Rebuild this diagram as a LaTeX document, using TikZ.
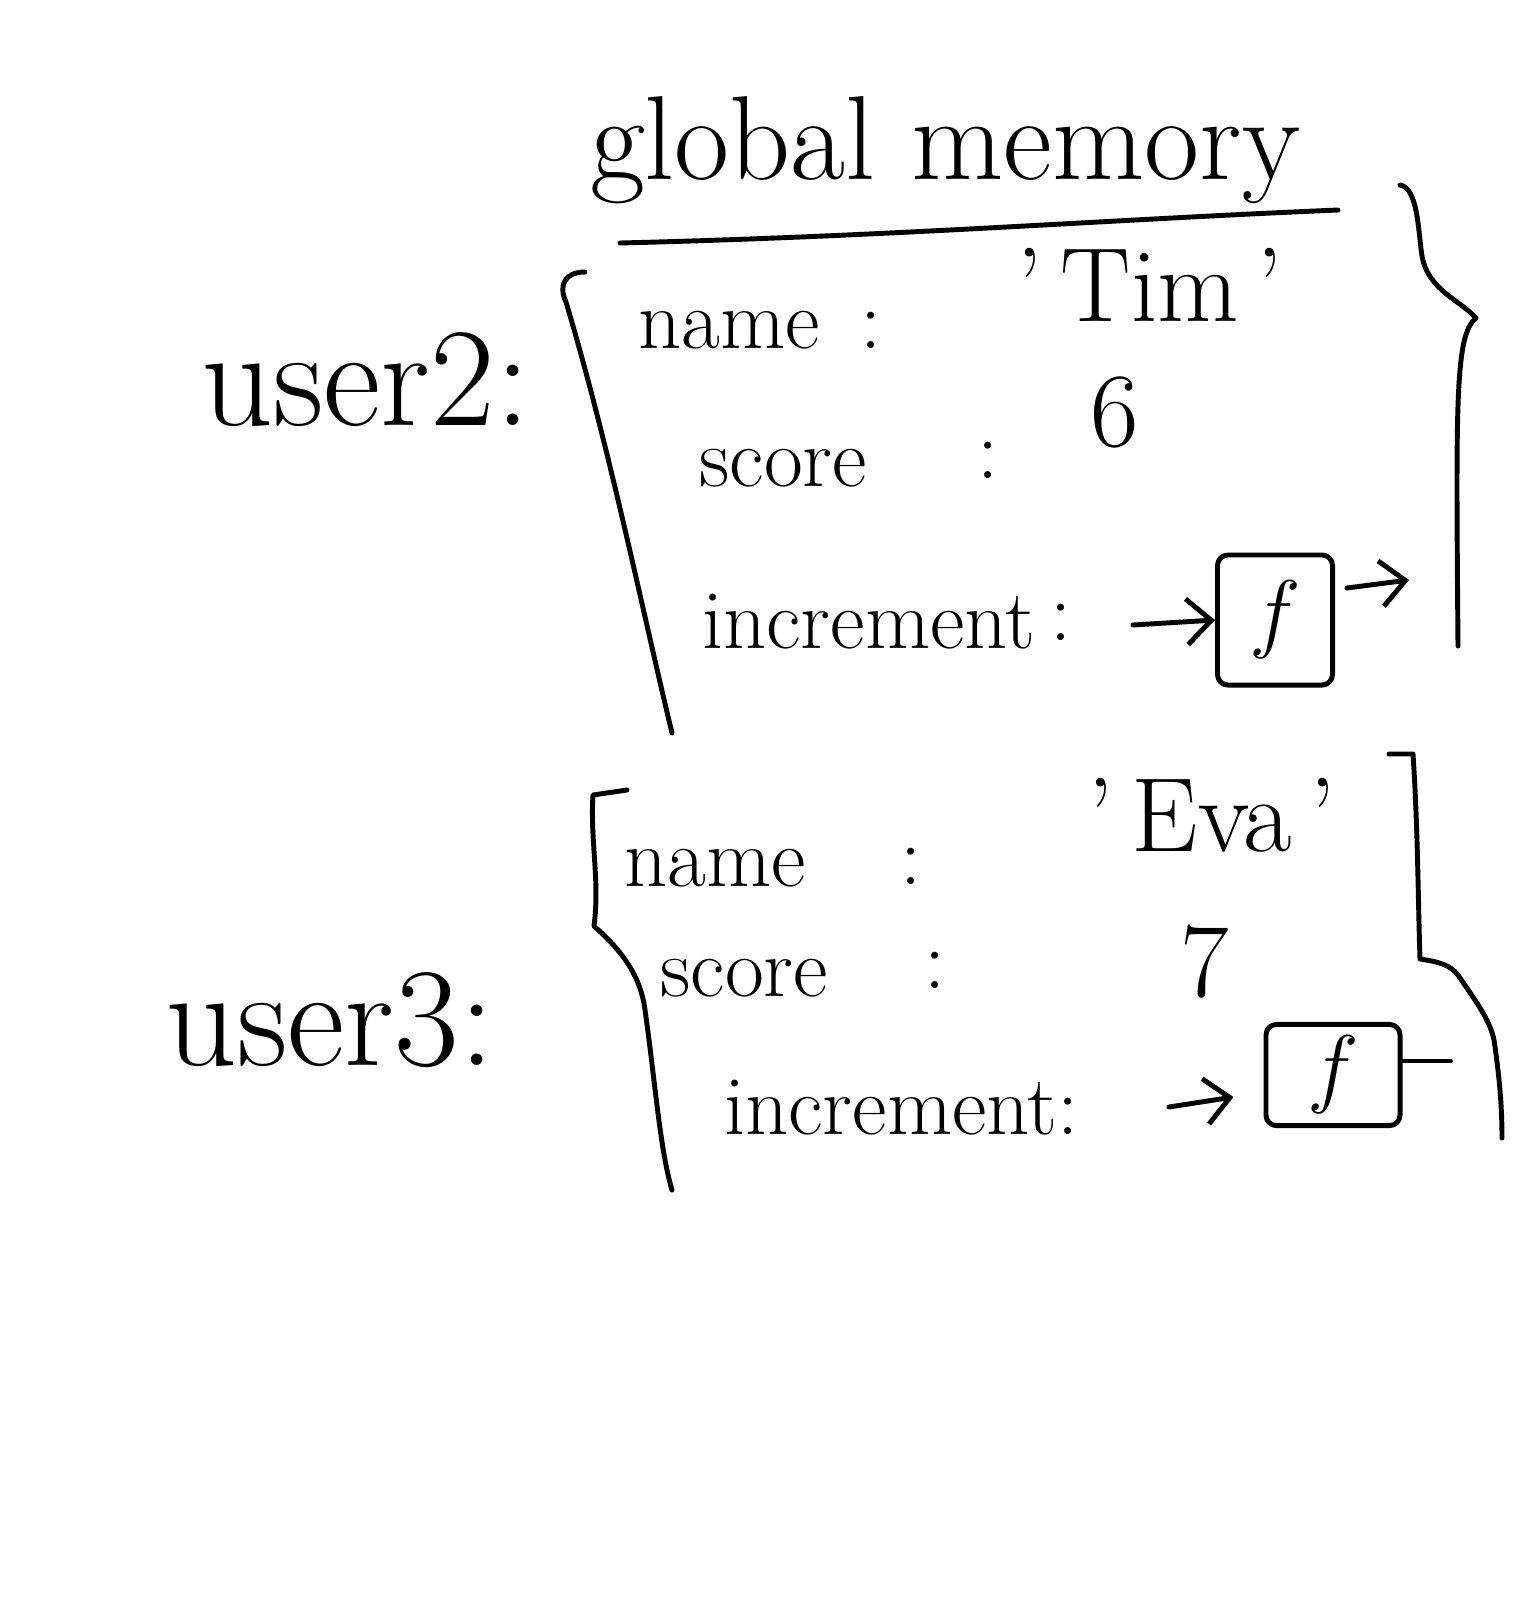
\documentclass[tikz,border=0pt]{standalone}
\usetikzlibrary{arrows.meta,positioning}
\begin{document}
\begin{tikzpicture}[x=0.01cm,y=-0.01cm,line width=1.4pt,line cap=round,line join=round,
  >={Straight Barb[length=7pt,width=13pt]},
  big/.style={font=\fontsize{40}{46}\selectfont,inner sep=0pt},
  lbl/.style={font=\fontsize{24}{28}\selectfont,inner sep=0pt,anchor=west},
  val/.style={font=\fontsize{30}{36}\selectfont,inner sep=0pt},
  fbox/.style={draw,rounded corners=3pt,minimum width=1.15cm,minimum height=1.3cm,
    font=\fontsize{30}{36}\selectfont}]
\useasboundingbox (0,0) rectangle (1536,1608);
% heading
\node[font=\fontsize{34}{40}\selectfont,inner sep=0pt] (title) at (945,150) {global memory};
\draw (620,243) .. controls (900,236) and (1100,220) .. (1338,210);
\draw (1400,185) .. controls (1418,188) and (1418,230) .. (1422,256)
  .. controls (1428,290) and (1460,300) .. (1476,318)
  .. controls (1455,335) and (1456,400) .. (1458,646);
% user2
\node[big] (u2) at (366,380) {user2:};
\draw (585,272) .. controls (565,272) and (558,285) .. (566,302)
  .. controls (610,450) and (640,600) .. (672,733);
\node[lbl] (n2) at (636,330) {name};
\node[lbl] (n2c) at (858,330) {:};
\node[val] (n2v) at (1150,285) {'\,Tim\,'};
\node[lbl] (s2) at (697,468) {score};
\node[lbl] (s2c) at (975,460) {:};
\node[val] (s2v) at (1115,412) {6};
\node[lbl] (i2) at (700,622) {increment};
\node[lbl] (i2c) at (1048,622) {:};
\node[fbox] (f2) at (1275,620) {$f$};
\coordinate (in2) at (1133,625);
\draw[->] (in2) -- (f2.west);
\draw[->] ([xshift=0.12cm,yshift=0.32cm]f2.east) -- ++(62,-8);
% user3
\node[big] (u3) at (330,1020) {user3:};
\draw (627,790) -- (593,795) .. controls (590,840) and (600,880) .. (594,926)
  .. controls (615,945) and (640,970) .. (645,1010)
  .. controls (655,1080) and (660,1150) .. (672,1190);
\draw (1389,754) -- (1413,754) .. controls (1418,830) and (1418,900) .. (1420,959)
  .. controls (1440,962) and (1450,965) .. (1458,975)
  .. controls (1475,1000) and (1490,1020) .. (1494,1040)
  .. controls (1500,1080) and (1502,1110) .. (1502,1138);
\node[lbl] (n3) at (622,868) {name};
\node[lbl] (n3c) at (898,866) {:};
\node[val] (n3v) at (1212,815) {'\,Eva\,'};
\node[lbl] (s3) at (658,978) {score};
\node[lbl] (s3c) at (922,970) {:};
\node[val] (s3v) at (1205,962) {7};
\node[lbl] (i3) at (722,1108) {increment:};
\node[fbox,minimum width=1.34cm,minimum height=1.0cm] (f3) at (1333,1075) {$f$};
\coordinate (in3) at (1169,1107);
\draw[->] (in3) -- ([xshift=-0.3cm,yshift=-0.22cm]f3.west);
\draw ([yshift=0.14cm]f3.east) -- ++(48,0);
\end{tikzpicture}
\end{document}
